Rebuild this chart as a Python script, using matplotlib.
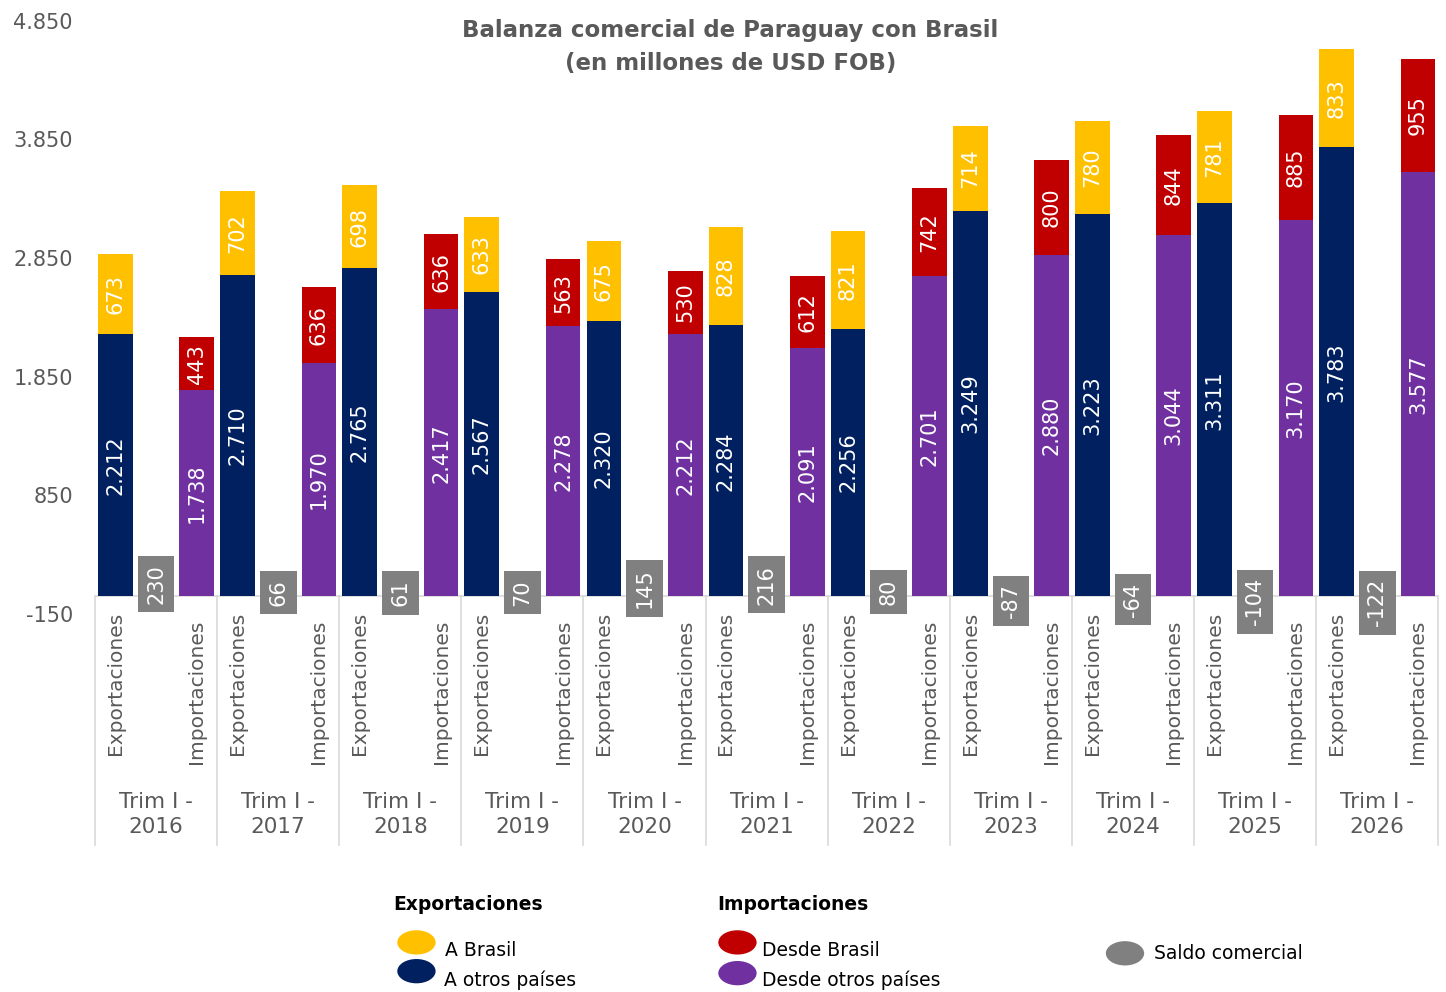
import numpy as np
import matplotlib.pyplot as plt
from matplotlib.patches import Ellipse
from matplotlib.ticker import FuncFormatter

plt.rcParams['font.family'] = ['DejaVu Sans']

# datos (millones de USD FOB)
years = ['2016', '2017', '2018', '2019', '2020', '2021', '2022', '2023', '2024', '2025', '2026']
exp_brasil = [673, 702, 698, 633, 675, 828, 821, 714, 780, 781, 833]
exp_otros = [2212, 2710, 2765, 2567, 2320, 2284, 2256, 3249, 3223, 3311, 3783]
imp_brasil = [443, 636, 636, 563, 530, 612, 742, 800, 844, 885, 955]
imp_otros = [1738, 1970, 2417, 2278, 2212, 2091, 2701, 2880, 3044, 3170, 3577]
saldo = [230, 66, 61, 70, 145, 216, 80, -87, -64, -104, -122]

c_amarillo = '#FFC000'
c_azul = '#002060'
c_rojo = '#C00000'
c_violeta = '#7030A0'
c_gris = '#808080'
c_texto = '#595959'


def fmt_miles(v):
    return f'{v:,.0f}'.replace(',', '.')


fig = plt.figure(figsize=(14.46, 9.92), dpi=100)
ax = fig.add_axes([0.0657, 0.381, 0.929, 0.598])

n = len(years)
x_exp = np.arange(n) * 3
x_sal = x_exp + 1
x_imp = x_exp + 2
w = 0.85

ax.bar(x_exp, exp_otros, w, color=c_azul)
ax.bar(x_exp, exp_brasil, w, bottom=exp_otros, color=c_amarillo)
ax.bar(x_imp, imp_otros, w, color=c_violeta)
ax.bar(x_imp, imp_brasil, w, bottom=imp_otros, color=c_rojo)

lab = dict(rotation=90, ha='center', va='center', color='white', fontsize=15)
for i in range(n):
    ax.text(x_exp[i], exp_otros[i] / 2, fmt_miles(exp_otros[i]), **lab)
    ax.text(x_exp[i], exp_otros[i] + exp_brasil[i] / 2, fmt_miles(exp_brasil[i]), **lab)
    ax.text(x_imp[i], imp_otros[i] / 2, fmt_miles(imp_otros[i]), **lab)
    ax.text(x_imp[i], imp_otros[i] + imp_brasil[i] / 2, fmt_miles(imp_brasil[i]), **lab)
    # saldo comercial como etiqueta gris
    ax.text(x_sal[i], saldo[i] * 0.45, fmt_miles(saldo[i]), rotation=90, ha='center',
            va='center', color='white', fontsize=15,
            bbox=dict(boxstyle='square,pad=0.4', fc=c_gris, ec='none'))

ax.set_xlim(-0.5, 3 * n - 0.5)
ax.set_ylim(-150, 4850)
ax.set_yticks(np.arange(-150, 4851, 1000))
ax.yaxis.set_major_formatter(FuncFormatter(lambda v, p: fmt_miles(v)))
ax.tick_params(axis='y', length=0, labelsize=15, labelcolor=c_texto, pad=16)
ax.set_xticks([])
for s in ax.spines.values():
    s.set_visible(False)

ax.axhline(0, color='#D9D9D9', lw=1.2, zorder=0)

# etiquetas de categorias bajo el eje
for i in range(n):
    ax.annotate('Exportaciones', (x_exp[i], 0), xytext=(0, -11), textcoords='offset points',
                rotation=90, ha='center', va='top', fontsize=14.5, color=c_texto,
                annotation_clip=False)
    ax.annotate('Importaciones', (x_imp[i], 0), xytext=(0, -17), textcoords='offset points',
                rotation=90, ha='center', va='top', fontsize=14.5, color=c_texto,
                annotation_clip=False)
    ax.annotate('Trim I -\n' + years[i], (x_sal[i], 0), xytext=(0, -157),
                textcoords='offset points', ha='center', va='center', fontsize=15.5,
                color=c_texto, linespacing=1.35, annotation_clip=False)

for b in np.arange(n + 1) * 3 - 0.5:
    ax.plot([b, b], [0, -2100], color='#D9D9D9', lw=1.2, clip_on=False)

fig.text(0.505, 0.981, 'Balanza comercial de Paraguay con Brasil\n(en millones de USD FOB)',
         ha='center', va='top', fontsize=16.5, fontweight='bold', color=c_texto,
         linespacing=1.55)

# leyenda manual
fig.text(0.272, 0.088, 'Exportaciones', fontsize=13.5, fontweight='bold', color='black', va='center')
fig.text(0.496, 0.088, 'Importaciones', fontsize=13.5, fontweight='bold', color='black', va='center')
items = [
    (0.288, 0.050, c_amarillo, 0.308, 0.042, 'A Brasil'),
    (0.288, 0.021, c_azul, 0.307, 0.012, 'A otros países'),
    (0.510, 0.050, c_rojo, 0.527, 0.042, 'Desde Brasil'),
    (0.510, 0.019, c_violeta, 0.527, 0.012, 'Desde otros países'),
    (0.778, 0.039, c_gris, 0.798, 0.039, 'Saldo comercial'),
]
for ex, ey, col, tx, ty, txt in items:
    fig.add_artist(Ellipse((ex, ey), 0.0265, 0.0245, transform=fig.transFigure,
                           color=col, ec='none'))
    fig.text(tx, ty, txt, fontsize=13.5, color='black', va='center')

fig.savefig('out.png', dpi=100)
